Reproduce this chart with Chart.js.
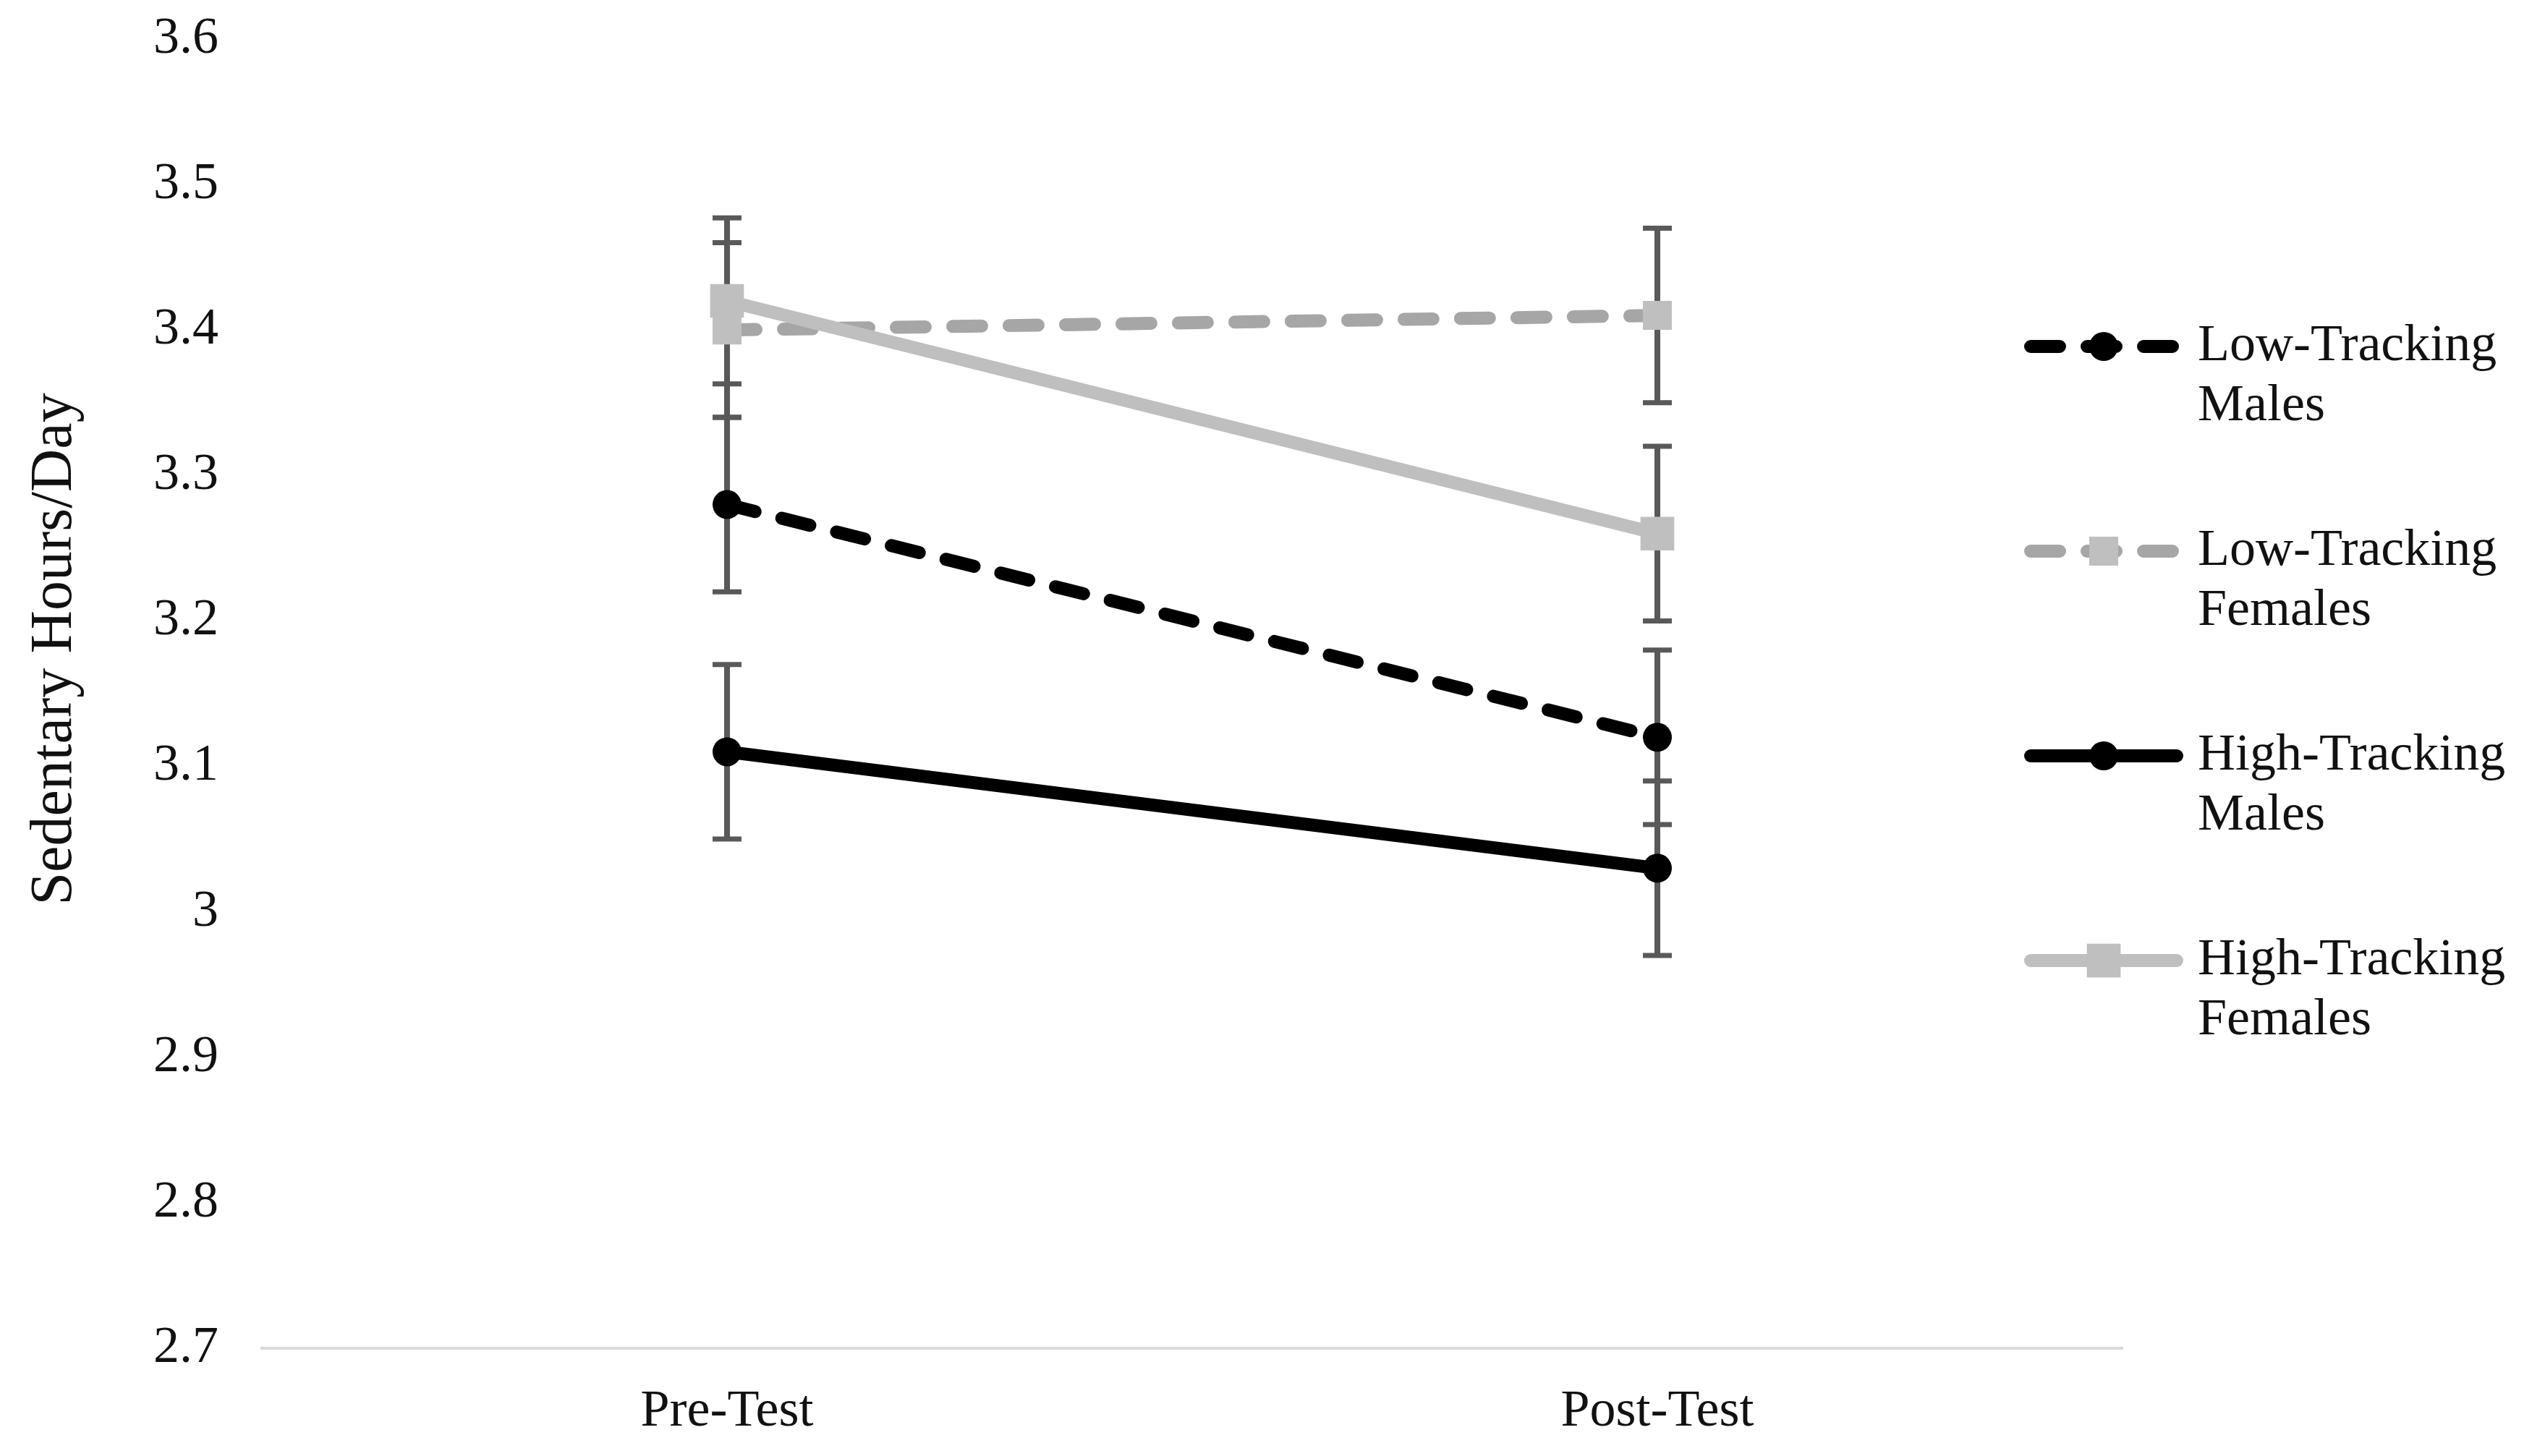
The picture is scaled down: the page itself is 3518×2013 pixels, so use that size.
<!DOCTYPE html>
<html>
<head>
<meta charset="utf-8">
<title>Sedentary Hours/Day</title>
<script src="https://cdn.jsdelivr.net/npm/chart.js@4.4.1/dist/chart.umd.min.js"></script>
<style>
    html, body { margin: 0; padding: 0; background: #fff; }
    #wrap { width: 3518px; height: 2013px; }
</style>
</head>
<body>
<div id="wrap"><canvas id="chart"></canvas></div>
<script>
// Werte
const categories = ['Pre-Test', 'Post-Test'];
const yTickLabels = ['2.7', '2.8', '2.9', '3', '3.1', '3.2', '3.3', '3.4', '3.5', '3.6'];
const yAxisTitle = 'Sedentary Hours/Day';

const seriesLabels = [
    ['Low-Tracking', 'Males'],
    ['Low-Tracking', 'Females'],
    ['High-Tracking', 'Males'],
    ['High-Tracking', 'Females']
];

const lowTrackingMales = [3.28, 3.12];
const lowTrackingFemales = [3.40, 3.41];
const highTrackingMales = [3.11, 3.03];
const highTrackingFemales = [3.42, 3.26];

const errLowTrackingMales = [0.06, 0.06];
const errLowTrackingFemales = [0.06, 0.06];
const errHighTrackingMales = [0.06, 0.06];
const errHighTrackingFemales = [0.057, 0.06];

const FONT_FAMILY = "'Liberation Serif', 'Times New Roman', serif";
const TEXT_COLOR = '#111';
const ERROR_COLOR = '#595959';
const DASH = [40, 38];

// Fehlerbalken unter den Linien zeichnen
const errorBarsPlugin = {
    id: 'errorBars',
    beforeDatasetsDraw(chart) {
        const { ctx } = chart;
        const yScale = chart.scales.y;
        ctx.save();
        ctx.strokeStyle = ERROR_COLOR;
        ctx.setLineDash([]);
        chart.data.datasets.forEach((dataset, i) => {
            const meta = chart.getDatasetMeta(i);
            meta.data.forEach((point, j) => {
                const value = dataset.data[j];
                const err = dataset.errors[j];
                const top = yScale.getPixelForValue(value + err);
                const bottom = yScale.getPixelForValue(value - err);
                ctx.lineWidth = 8;
                ctx.beginPath();
                ctx.moveTo(point.x, top);
                ctx.lineTo(point.x, bottom);
                ctx.stroke();
                ctx.lineWidth = 7;
                ctx.beginPath();
                ctx.moveTo(point.x - 20, top);
                ctx.lineTo(point.x + 20, top);
                ctx.moveTo(point.x - 20, bottom);
                ctx.lineTo(point.x + 20, bottom);
                ctx.stroke();
            });
        });
        ctx.restore();
    }
};

function drawMarker(ctx, dataset, x, y) {
    ctx.fillStyle = dataset.pointBackgroundColor;
    if (dataset.pointStyle === 'rect') {
        const half = dataset.pointRadius * Math.SQRT1_2;
        ctx.fillRect(x - half, y - half, half * 2, half * 2);
    } else {
        ctx.beginPath();
        ctx.arc(x, y, dataset.pointRadius, 0, Math.PI * 2);
        ctx.fill();
    }
}

// Legende rechts und Achsentitel
const sideTextPlugin = {
    id: 'sideText',
    afterDraw(chart) {
        const { ctx, chartArea } = chart;
        ctx.save();

        ctx.fillStyle = TEXT_COLOR;
        ctx.font = `82px ${FONT_FAMILY}`;
        ctx.textAlign = 'center';
        ctx.textBaseline = 'middle';
        ctx.translate(76, chartArea.top + (chartArea.bottom - chartArea.top) * 0.466);
        ctx.rotate(-Math.PI / 2);
        ctx.fillText(yAxisTitle, 0, 0);
        ctx.restore();

        ctx.save();
        const lineStart = chartArea.right - 127;
        const lineEnd = lineStart + 202;
        const markerX = (lineStart + lineEnd) / 2;
        const textX = chartArea.right + 104;
        const firstY = 479;
        const itemGap = 283;
        const lineGap = 83;
        chart.data.datasets.forEach((dataset, i) => {
            const y = firstY + i * itemGap;
            ctx.strokeStyle = dataset.borderColor;
            ctx.lineWidth = dataset.borderWidth;
            ctx.lineCap = 'round';
            ctx.setLineDash(dataset.borderDash || []);
            ctx.beginPath();
            ctx.moveTo(lineStart, y);
            ctx.lineTo(lineEnd, y);
            ctx.stroke();
            ctx.setLineDash([]);
            drawMarker(ctx, dataset, markerX, y);

            ctx.fillStyle = TEXT_COLOR;
            ctx.font = `72px ${FONT_FAMILY}`;
            ctx.textAlign = 'left';
            ctx.textBaseline = 'middle';
            seriesLabels[i].forEach((line, k) => {
                ctx.fillText(line, textX, y + k * lineGap);
            });
        });
        ctx.restore();
    }
};

const baseLine = {
    borderWidth: 18,
    borderCapStyle: 'round',
    pointBorderWidth: 0,
    pointHoverRadius: 0,
    tension: 0,
    fill: false
};

new Chart(document.getElementById('chart'), {
    type: 'line',
    data: {
        labels: categories,
        datasets: [
            {
                ...baseLine,
                label: seriesLabels[0].join(' '),
                data: lowTrackingMales,
                errors: errLowTrackingMales,
                borderColor: '#000000',
                borderDash: DASH,
                pointStyle: 'circle',
                pointRadius: 20,
                pointBackgroundColor: '#000000',
                order: 1
            },
            {
                ...baseLine,
                label: seriesLabels[1].join(' '),
                data: lowTrackingFemales,
                errors: errLowTrackingFemales,
                borderColor: '#A6A6A6',
                borderDash: DASH,
                pointStyle: 'rect',
                pointRadius: 28.3,
                pointBackgroundColor: '#BFBFBF',
                order: 2
            },
            {
                ...baseLine,
                label: seriesLabels[2].join(' '),
                data: highTrackingMales,
                errors: errHighTrackingMales,
                borderColor: '#000000',
                pointStyle: 'circle',
                pointRadius: 20,
                pointBackgroundColor: '#000000',
                order: 1
            },
            {
                ...baseLine,
                label: seriesLabels[3].join(' '),
                data: highTrackingFemales,
                errors: errHighTrackingFemales,
                borderColor: '#BFBFBF',
                pointStyle: 'rect',
                pointRadius: 33,
                pointBackgroundColor: '#BFBFBF',
                order: 0
            }
        ]
    },
    options: {
        responsive: true,
        maintainAspectRatio: false,
        animation: false,
        events: [],
        layout: { padding: { top: 54, right: 584, bottom: 0, left: 0 } },
        plugins: {
            legend: { display: false },
            tooltip: { enabled: false }
        },
        scales: {
            x: {
                offset: true,
                grid: { display: false, drawTicks: false },
                border: { display: true, color: '#D9D9D9', width: 4 },
                ticks: {
                    color: TEXT_COLOR,
                    padding: 45,
                    font: { family: FONT_FAMILY, size: 72 }
                },
                afterFit: scale => { scale.height = 149; }
            },
            y: {
                min: 2.7,
                max: 3.6,
                grid: { display: false, drawTicks: false },
                border: { display: false },
                ticks: {
                    stepSize: 0.1,
                    color: TEXT_COLOR,
                    padding: 60,
                    font: { family: FONT_FAMILY, size: 72 },
                    callback: (value, index) => yTickLabels[index]
                },
                afterFit: scale => {
                    scale.width = 362;
                    scale.paddingTop = 0;
                    scale.paddingBottom = 0;
                }
            }
        }
    },
    plugins: [errorBarsPlugin, sideTextPlugin]
});
</script>
</body>
</html>
